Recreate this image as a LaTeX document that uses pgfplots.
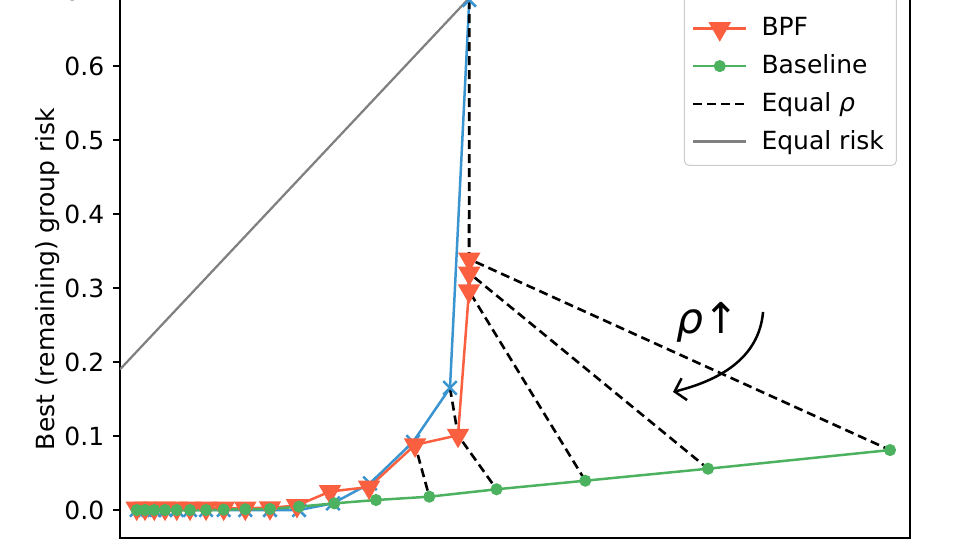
\documentclass[border=0pt]{standalone}
\usepackage{fontspec}
\setmainfont{DejaVu Sans}
\usepackage{pgfplots}
\pgfplotsset{compat=1.18}
\usetikzlibrary{arrows.meta}

\definecolor{drob}{RGB}{58,148,208}
\definecolor{bpfr}{RGB}{250,96,64}
\definecolor{baseg}{RGB}{76,178,96}
\definecolor{legframe}{RGB}{204,204,204}

\begin{document}
\begin{tikzpicture}
\begin{axis}[
  at={(0,0)}, anchor=south west,
  scale only axis,
  width=316pt, height=236.2pt,
  xmin=0.19, xmax=1.325,
  ymin=-0.0378, ymax=0.76,
  xtick=\empty,
  ytick={0,0.1,0.2,0.3,0.4,0.5,0.6,0.7},
  ytick pos=left,
  tick align=outside,
  major tick length=2.8pt,
  every tick/.style={black, line width=0.8pt},
  axis line style={line width=0.8pt, black},
  /pgf/number format/assume math mode=true,
  yticklabel style={/pgf/number format/.cd, fixed, fixed zerofill, precision=1},
  ylabel={Best (remaining) group risk},
  ylabel style={at={(axis description cs:-0.0911,0.4387)}, anchor=center},
  legend cell align=left,
  legend style={at={(axis description cs:0.9835,0.630)}, anchor=south east,
    draw=legframe, rounded corners=2pt, fill=white,
    row sep=2pt, inner xsep=3pt, inner ysep=3pt,
    /tikz/every odd column/.append style={column sep=3.5pt}},
  legend image code/.code={\draw[mark repeat=2,mark phase=2,#1]
    plot coordinates {(0cm,0cm)(0.375cm,0cm)(0.75cm,0cm)};},
]
% DRO
\addplot[drob, line width=1pt, mark=x, mark size=3.8pt] coordinates {
  (0.214,0) (0.226,0) (0.2393,0) (0.2547,0) (0.2715,0) (0.2906,0)
  (0.3136,0) (0.339,0) (0.370,0) (0.4055,0) (0.4472,0) (0.496,0.009)
  (0.5492,0.036) (0.611,0.092) (0.6641,0.165) (0.6918,0.689)
};
\addlegendentry{DRO}
% BPF
\addplot[bpfr, line width=1pt, mark=triangle*, mark size=4.2pt,
  mark options={rotate=180, fill=bpfr, draw=bpfr}] coordinates {
  (0.214,0.0025) (0.226,0.0025) (0.2393,0.0025) (0.2547,0.0025)
  (0.2715,0.0025) (0.2906,0.0025) (0.3136,0.0025) (0.339,0.0025)
  (0.370,0.0025) (0.4055,0.003) (0.4443,0.006) (0.4917,0.025)
  (0.5478,0.031) (0.6139,0.088) (0.6756,0.101) (0.6914,0.296)
  (0.6918,0.320) (0.6918,0.339)
};
\addlegendentry{BPF}
% Baseline
\addplot[baseg, line width=1pt, mark=*, mark size=1.9pt,
  mark options={fill=baseg, draw=baseg}] coordinates {
  (0.214,0) (0.226,0) (0.2393,0) (0.2547,0) (0.2715,0) (0.2906,0)
  (0.3136,0) (0.339,0.0005) (0.370,0.001) (0.4055,0.0014) (0.4472,0.0045)
  (0.4979,0.009) (0.5578,0.0135) (0.6344,0.018) (0.731,0.028)
  (0.8585,0.0396) (1.0348,0.0558) (1.2963,0.081)
};
\addlegendentry{Baseline}
% Equal rho: DRO point -> BPF point -> Baseline point
\addplot[black, line width=1.05pt, dash pattern=on 3.6pt off 2pt,
  unbounded coords=jump] coordinates {
  (0.214,0) (0.214,0.0025) (0.214,0) (nan,nan)
  (0.226,0) (0.226,0.0025) (0.226,0) (nan,nan)
  (0.2393,0) (0.2393,0.0025) (0.2393,0) (nan,nan)
  (0.2547,0) (0.2547,0.0025) (0.2547,0) (nan,nan)
  (0.2715,0) (0.2715,0.0025) (0.2715,0) (nan,nan)
  (0.2906,0) (0.2906,0.0025) (0.2906,0) (nan,nan)
  (0.3136,0) (0.3136,0.0025) (0.3136,0) (nan,nan)
  (0.339,0) (0.339,0.0025) (0.339,0.0005) (nan,nan)
  (0.370,0) (0.370,0.0025) (0.370,0.001) (nan,nan)
  (0.4055,0) (0.4055,0.003) (0.4055,0.0014) (nan,nan)
  (0.4472,0) (0.4443,0.006) (0.4472,0.0045) (nan,nan)
  (0.496,0.009) (0.4917,0.025) (0.4979,0.009) (nan,nan)
  (0.5492,0.036) (0.5478,0.031) (0.5578,0.0135) (nan,nan)
  (0.611,0.092) (0.6139,0.088) (0.6344,0.018) (nan,nan)
  (0.6641,0.165) (0.6756,0.101) (0.731,0.028) (nan,nan)
  (0.6918,0.689) (0.6914,0.296) (0.8585,0.0396) (nan,nan)
  (0.6918,0.689) (0.6918,0.320) (1.0348,0.0558) (nan,nan)
  (0.6918,0.689) (0.6918,0.339) (1.2963,0.081)
};
\addlegendentry{Equal \textit{ρ}}
% Equal risk
\addplot[gray, line width=0.9pt] coordinates {(0.19,0.19) (0.77,0.77)};
\addlegendentry{Equal risk}

\node[font=\fontsize{17}{20}\selectfont] at (axis cs:1.0348,0.254) {\textit{ρ}↑};
\draw[line width=1pt, -{Straight Barb[length=4pt,width=9pt]}]
  (axis cs:1.1139,0.2676) to[out=-95,in=14] (axis cs:0.9845,0.1595);
\end{axis}
\pgfresetboundingbox
\path[use as bounding box] (-48pt,-0.8pt) rectangle (336pt,215.2pt);
\end{tikzpicture}
\end{document}
